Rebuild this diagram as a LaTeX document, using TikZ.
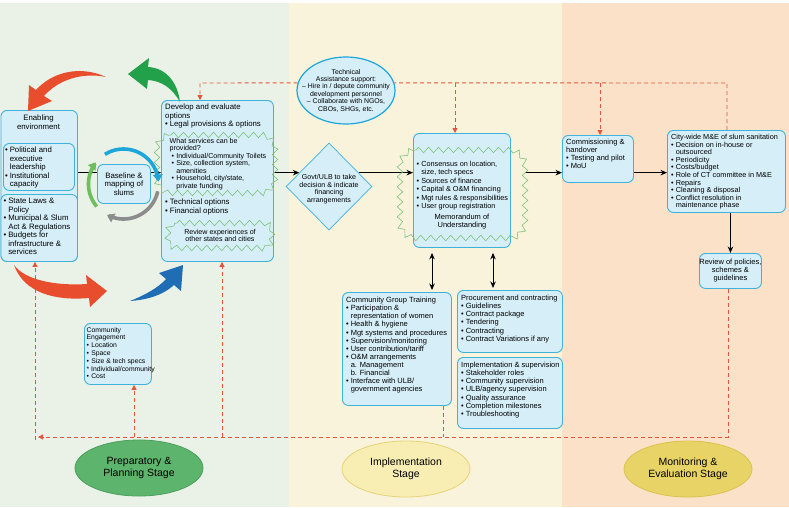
\documentclass[tikz,border=0pt]{standalone}
\usepackage{fontspec}
\setmainfont{Liberation Sans}
\usetikzlibrary{shapes.geometric,arrows.meta,decorations.pathmorphing}
\pgfdeclarelayer{bands}
\pgfdeclarelayer{links}
\pgfsetlayers{bands,links,main}
\definecolor{bgG}{HTML}{EAF2E7}
\definecolor{bgY}{HTML}{FAF3DB}
\definecolor{bgO}{HTML}{FCE1C9}
\definecolor{boxfill}{HTML}{D5EEF8}
\definecolor{boxbd}{HTML}{3FB2DC}
\definecolor{burstc}{HTML}{7DC37B}
\definecolor{redc}{HTML}{E84E2D}
\definecolor{dashc}{HTML}{E5553A}
\definecolor{greenc}{HTML}{22A14A}
\definecolor{bluec}{HTML}{1E6DB5}
\definecolor{cyanc}{HTML}{1CA6DA}
\definecolor{grayc}{HTML}{8C8C8C}
\definecolor{lgreenc}{HTML}{6DBE5C}
\definecolor{prepf}{HTML}{5DB46C}
\definecolor{prepb}{HTML}{4C9F5B}
\definecolor{implf}{HTML}{F8EEB4}
\definecolor{implb}{HTML}{E6D277}
\definecolor{monf}{HTML}{E8D466}
\definecolor{monb}{HTML}{D8C24F}
\newcommand\fa{\fontsize{7.5}{8.1}\selectfont}
\newcommand\fb{\fontsize{7.8}{8.5}\selectfont}
\newcommand\fs{\fontsize{7.1}{7.5}\selectfont}
\newcommand\bu{\makebox[4.6pt][l]{•}}
\newcommand\hi{\hspace*{4.6pt}}
% zig-zag outline round a rounded rectangle: x1 y1 x2 y2 r
\newcommand\burstbox[5]{%
\draw[burst] (#1+#5,#2) -- (#3-#5,#2) .. controls (#3-0.45*#5,#2) and (#3,#2+0.45*#5) .. (#3,#2+#5)
 -- (#3,#4-#5) .. controls (#3,#4-0.45*#5) and (#3-0.45*#5,#4) .. (#3-#5,#4)
 -- (#1+#5,#4) .. controls (#1+0.45*#5,#4) and (#1,#4-0.45*#5) .. (#1,#4-#5)
 -- (#1,#2+#5) .. controls (#1,#2+0.45*#5) and (#1+0.45*#5,#2) .. (#1+#5,#2) -- cycle;}
\begin{document}
\begin{tikzpicture}[x=1pt,y=-1pt,
  box/.style={draw=boxbd, fill=boxfill, line width=0.9pt, rounded corners=6pt, inner sep=0pt, anchor=north west},
  txt/.style={inner sep=0pt, align=left, anchor=north west, font=\fa},
  ctxt/.style={inner sep=0pt, align=center, font=\fa},
  burst/.style={draw=burstc, line width=0.6pt, decorate, decoration={zigzag, segment length=10pt, amplitude=2.8pt}},
  arr/.style={line width=1pt, -{Stealth[length=6.5pt,width=5.5pt]}},
  darr/.style={line width=1pt, {Stealth[length=6.5pt,width=5.5pt]}-{Stealth[length=6.5pt,width=5.5pt]}},
  dashr/.style={draw=dashc, line width=0.9pt, dash pattern=on 4pt off 3pt},
  tipr/.style={-{Triangle[length=5pt,width=5pt]}},
  ring/.style={line width=3.6pt, -{Triangle[length=7pt,width=9.5pt]}},
  stage/.style={ellipse, line width=0.8pt, minimum width=128pt, minimum height=56pt, align=center, inner sep=0pt, font=\fontsize{10.5}{12.5}\selectfont}
]
\useasboundingbox (0,0) rectangle (789,507);
\begin{pgfonlayer}{bands}
\fill[white] (0,0) rectangle (789,507);
\fill[bgG] (0,3) rectangle (289,507);
\fill[bgY] (289,3) rectangle (562,507);
\fill[bgO] (562,3) rectangle (789,507);
\end{pgfonlayer}

% ---------- preparatory stage boxes
\node[box, minimum width=76.5pt, minimum height=151pt] (env) at (0.5,110) {};
\node[ctxt, font=\fb] (envt) at (38.5,122) {Enabling\\environment};
\node[box, minimum width=71pt, minimum height=47pt] (pol) at (3,143) {};
\node[txt, font=\fb] (polt) at (5,147) {\bu Political and\\\hi executive\\\hi leadership\\\bu Institutional\\\hi capacity};
\node[box, minimum width=76.5pt, minimum height=67pt] (law) at (0.5,194) {};
\node[txt, font=\fb] (lawt) at (3.5,198) {\bu State Laws \&\\\hi Policy\\\bu Municipal \& Slum\\\hi Act \& Regulations\\\bu Budgets for\\\hi infrastructure \&\\\hi services};

\node[box, minimum width=53pt, minimum height=39pt] (base) at (97,164) {};
\node[ctxt, font=\fb] (baset) at (base.center) {Baseline \&\\mapping of\\slums};

\node[box, minimum width=112pt, minimum height=161pt] (dev) at (161,100) {};
\node[txt, font=\fb] (devt) at (165,104) {Develop and evaluate\\options\\\bu Legal provisions \& options};
\burstbox{157}{135}{275}{193}{14}
\node[txt, anchor=center, font=\fs] (bs1t) at (218,164) {What services can be\\provided?\\\hspace*{2pt}\bu Individual/Community Toilets\\\hspace*{2pt}\bu Size, collection system,\\\hspace*{2pt}\hi amenities\\\hspace*{2pt}\bu Household, city/state,\\\hspace*{2pt}\hi private funding};
\node[txt, font=\fb] (devt2) at (165,199) {\bu Technical options\\\bu Financial options};
\burstbox{168}{223}{272}{248}{9}
\node[ctxt, font=\fs] (bs2t) at (220,235.5) {Review experiences of\\other states and cities};

\node[box, minimum width=67pt, minimum height=61pt] (eng) at (84,323) {};
\node[txt, font=\fontsize{6.8}{7.8}\selectfont] (engt) at (86.5,327) {Community\\Engagement\\\bu Location\\\bu Space\\\bu Size \& tech specs\\* Individual/community\\\bu Cost};

% ---------- implementation stage
\node[ellipse, draw=cyanc, fill=boxfill, line width=1.2pt, minimum width=98pt, minimum height=67pt, inner sep=0pt] (ta) at (346,90.5) {};
\node[ctxt, font=\fontsize{6.9}{7.4}\selectfont] (tat) at (346,90.5) {Technical\\Assistance support:\\– Hire in / depute community\\development personnel\\– Collaborate with NGOs,\\CBOs, SHGs, etc.};

\node[diamond, aspect=1, draw=boxbd, fill=boxfill, line width=0.7pt, minimum width=86pt, minimum height=87pt, inner sep=0pt] (gov) at (329,186.5) {};
\node[ctxt, font=\fs] (govt) at (329,189) {Govt/ULB to take\\decision \& indicate\\financing\\arrangements};

\node[box, minimum width=97pt, minimum height=114pt] (cons) at (413,133) {};
\burstbox{400}{150}{525}{238}{16}
\coordinate (bs3e) at (525,0);
\node[txt, font=\fontsize{7.3}{8.4}\selectfont] (const) at (416.5,161) {\bu Consensus on location,\\\hi size, tech specs\\\bu Sources of finance\\\bu Capital \& O\&M financing\\\bu Mgt rules \& responsibilities\\\bu User group registration};
\node[ctxt] (mou) at (462,222) {Memorandum of\\Understanding};

\node[box, minimum width=109pt, minimum height=113pt] (train) at (342,292) {};
\node[txt] (traint) at (346,297) {Community Group Training\\\bu Participation \&\\\hi representation of women\\\bu Health \& hygiene\\\bu Mgt systems and procedures\\\bu Supervision/monitoring\\\bu User contribution/tariff\\\bu O\&M arrangements\\\hi a. Management\\\hi b. Financial\\\bu Interface with ULB/\\\hi government agencies};

\node[box, minimum width=105pt, minimum height=62pt] (proc) at (457,290) {};
\node[txt] (proct) at (461,295) {Procurement and contracting\\\bu Guidelines\\\bu Contract package\\\bu Tendering\\\bu Contracting\\\bu Contract Variations if any};

\node[box, minimum width=105pt, minimum height=71pt] (impl) at (457,357) {};
\node[txt] (implt) at (461,362) {Implementation \& supervision\\\bu Stakeholder roles\\\bu Community supervision\\\bu ULB/agency supervision\\\bu Quality assurance\\\bu Completion milestones\\\bu Troubleshooting};

% ---------- monitoring stage
\node[box, minimum width=71pt, minimum height=47pt] (comm) at (562,135) {};
\node[txt] (commt) at (566,139) {Commissioning \&\\handover\\\bu Testing and pilot\\\bu MoU};

\node[box, minimum width=118pt, minimum height=82pt] (city) at (667,130) {};
\node[txt, font=\fontsize{7.3}{7.6}\selectfont] (cityt) at (671,134) {City-wide M\&E of slum sanitation\\\bu Decision on in-house or\\\hi outsourced\\\bu Periodicity\\\bu Costs/budget\\\bu Role of CT committee in M\&E\\\bu Repairs\\\bu Cleaning \& disposal\\\bu Conflict resolution in\\\hi maintenance phase};

\node[box, minimum width=62pt, minimum height=35pt] (review) at (699,253) {};
\node[ctxt] (reviewt) at (review.center) {Review of policies,\\schemes \&\\guidelines};

% ---------- stage labels
\node[stage, draw=prepb, fill=prepf] (stp) at (139,468) {Preparatory \&\\Planning Stage};
\node[stage, draw=implb, fill=implf] (sti) at (406,469) {Implementation\\Stage};
\node[stage, draw=monb, fill=monf] (stm) at (688,469) {Monitoring \&\\Evaluation Stage};

% ---------- connectors
\coordinate (t1) at (200,83);
\coordinate (t2) at (455,83);
\coordinate (t3) at (600,83);
\coordinate (t4) at (727,83);
\coordinate (b0) at (38,437);
\coordinate (b0v) at (35,440);
\coordinate (b1) at (134,437);
\coordinate (b2) at (222,437);
\coordinate (b3) at (443,437);
\coordinate (b4) at (728,437);
\coordinate (d1) at (432,0);
\coordinate (d2) at (493,0);
\begin{pgfonlayer}{links}
\draw[arr] (env.east |- gov.155) -- (dev.west |- gov.155);
\draw[arr] (dev.east |- gov.155) -- (gov.155);
\draw[arr] (gov.25) -- (cons.west |- gov.25);
\draw[arr] (bs3e |- gov.25) -- (comm.west |- gov.25);
\draw[arr] (comm.east |- gov.25) -- (city.west |- gov.25);
\draw[arr] (city.south -| review.north) -- (review.north);
\draw[darr, shorten <=2pt, shorten >=5pt] (train.north -| d1) -- (cons.south -| d1);
\draw[darr, shorten <=2pt, shorten >=5pt] (proc.north -| d2) -- (cons.south -| d2);
\draw[dashr] (city.north -| t4) -- (t4) -- (ta.9);
\draw[dashr, tipr] (ta.171) -- (t1) -- (dev.north -| t1);
\draw[dashr, tipr] (t2) -- (cons.north -| t2);
\draw[dashr, tipr] (t3) -- (comm.north -| t3);
\draw[dashr, tipr] (review.south -| b4) -- (b4) -- (b0);
\draw[dashr, tipr] (b0v) -- (env.south -| b0v);
\draw[dashr, tipr] (b1) -- (eng.south -| b1);
\draw[dashr, tipr] (b2) -- (dev.south -| b2);
\draw[dashr] (train.south -| b3) -- (b3);
\end{pgfonlayer}

% ---------- cycle arrows (tapered swooshes)
\fill[redc] (106,77) .. controls (82,72) and (58,80) .. (44,96) -- (52,101) -- (28,111) -- (29,85) -- (36,90) .. controls (52,72) and (80,65) .. (106,77) -- cycle;
\fill[greenc] (180,102) .. controls (178,85) and (168,68) .. (148,67) -- (149,58) -- (128,74) -- (147,89) -- (148,80) .. controls (162,81) and (172,88) .. (180,102) -- cycle;
\fill[redc] (14,265) .. controls (25,280) and (55,286) .. (87,284) -- (86,275) -- (107,291) -- (90,307) -- (89,298) .. controls (55,301) and (24,293) .. (14,265) -- cycle;
\fill[bluec] (130,301) .. controls (145,300) and (162,296) .. (174,285) -- (181,291) -- (183,265) -- (159,273) -- (166,279) .. controls (158,288) and (145,295) .. (130,301) -- cycle;

\draw[ring, cyanc] plot[domain=-122:-4, samples=30, smooth] ({123.5+35*cos(\x)},{184+35*sin(\x)});
\draw[ring, grayc] plot[domain=12:118, samples=30, smooth] ({123.5+35*cos(\x)},{184+35*sin(\x)});
\draw[ring, lgreenc] plot[domain=140:218, samples=30, smooth] ({123.5+35*cos(\x)},{184+35*sin(\x)});
\end{tikzpicture}
\end{document}
